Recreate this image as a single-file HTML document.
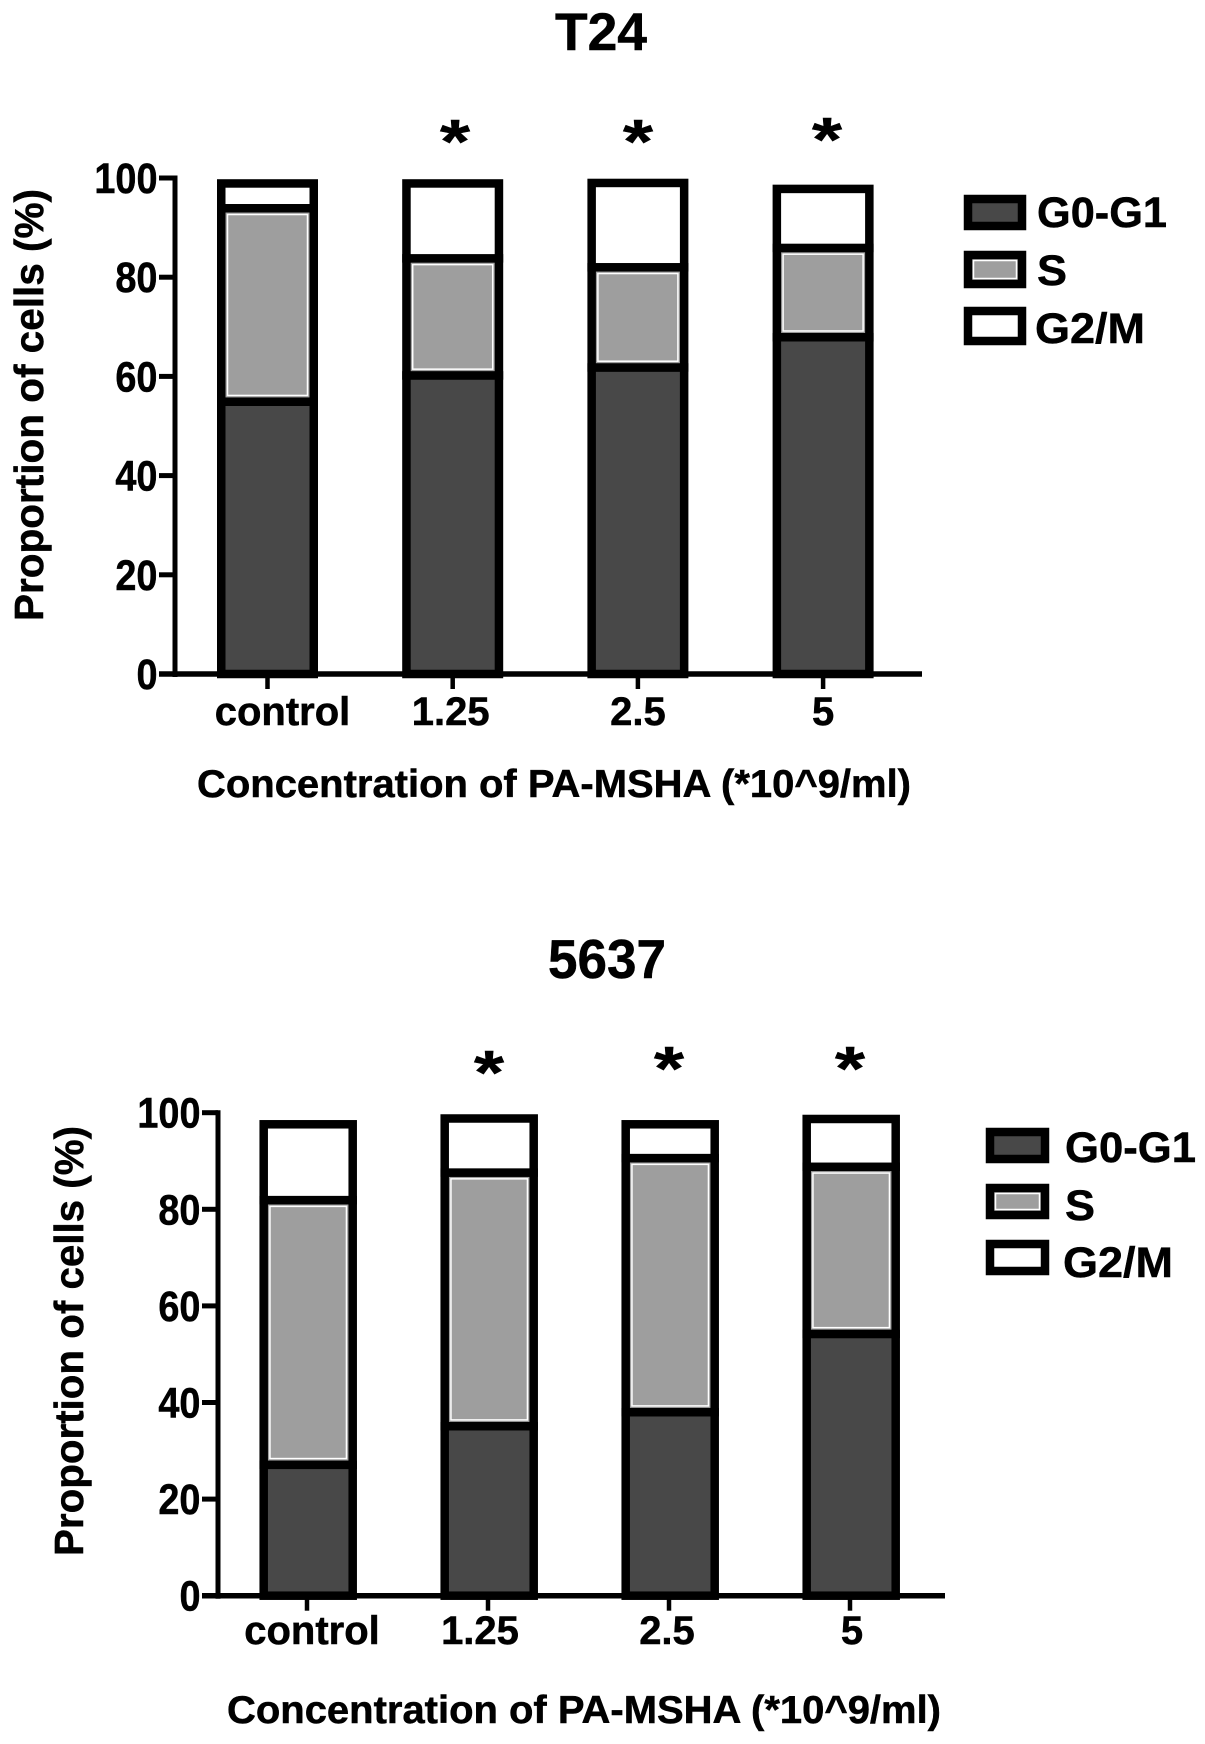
<!DOCTYPE html>
<html lang="en">
<head>
<meta charset="utf-8">
<title>Cell cycle distribution: T24 and 5637</title>
<style>
html,body{margin:0;padding:0;background:#fff;}
svg{display:block;}
text{font-family:"Liberation Sans",Arial,sans-serif;font-weight:bold;fill:#000;stroke:#000;stroke-width:0.5;}
</style>
</head>
<body>
<svg id="figure" xmlns="http://www.w3.org/2000/svg" width="1205" height="1744" viewBox="0 0 1205 1744">
  <rect x="0" y="0" width="1205" height="1744" fill="#fff"/>

  <g id="chart-t24">
    <text x="601" y="50" font-size="53" text-anchor="middle" textLength="92" lengthAdjust="spacingAndGlyphs">T24</text>
    <text transform="translate(43,405) rotate(-90)" font-size="41" text-anchor="middle" textLength="432" lengthAdjust="spacingAndGlyphs">Proportion of cells (%)</text>
    <text x="554" y="797" font-size="39" text-anchor="middle" textLength="714" lengthAdjust="spacingAndGlyphs">Concentration of PA-MSHA (*10^9/ml)</text>
    <g>
      <g>
        <rect x="968" y="199" width="54" height="27" fill="#484848" stroke="#000" stroke-width="8.5"/>
        <text x="1037" y="227" font-size="43" textLength="130" lengthAdjust="spacingAndGlyphs">G0-G1</text>
      </g>
      <g>
        <rect x="968" y="255" width="54" height="29" fill="#9e9e9e" stroke="#000" stroke-width="8.5"/>
        <rect x="973.5" y="260.5" width="43" height="18" fill="none" stroke="#fff" stroke-width="1.5"/>
        <text x="1037" y="285" font-size="43" textLength="30" lengthAdjust="spacingAndGlyphs">S</text>
      </g>
      <g>
        <rect x="968" y="311" width="54" height="30" fill="#fff" stroke="#000" stroke-width="8.5"/>
        <text x="1035" y="343" font-size="43" textLength="110" lengthAdjust="spacingAndGlyphs">G2/M</text>
      </g>
    </g>
  </g>

  <g id="chart-5637">
    <text x="607" y="978" font-size="55" text-anchor="middle" textLength="118" lengthAdjust="spacingAndGlyphs">5637</text>
    <text transform="translate(83,1341) rotate(-90)" font-size="41" text-anchor="middle" textLength="430" lengthAdjust="spacingAndGlyphs">Proportion of cells (%)</text>
    <text x="584" y="1723" font-size="39" text-anchor="middle" textLength="714" lengthAdjust="spacingAndGlyphs">Concentration of PA-MSHA (*10^9/ml)</text>
    <g>
      <g>
        <rect x="990" y="1132" width="55" height="27" fill="#484848" stroke="#000" stroke-width="8.5"/>
        <text x="1065" y="1162" font-size="43" textLength="131" lengthAdjust="spacingAndGlyphs">G0-G1</text>
      </g>
      <g>
        <rect x="990" y="1188" width="55" height="27" fill="#9e9e9e" stroke="#000" stroke-width="8.5"/>
        <rect x="995.5" y="1193.5" width="44" height="16" fill="none" stroke="#fff" stroke-width="1.5"/>
        <text x="1065" y="1220" font-size="43" textLength="30" lengthAdjust="spacingAndGlyphs">S</text>
      </g>
      <g>
        <rect x="990" y="1244" width="55" height="27" fill="#fff" stroke="#000" stroke-width="8.5"/>
        <text x="1063" y="1277" font-size="43" textLength="110" lengthAdjust="spacingAndGlyphs">G2/M</text>
      </g>
    </g>
  </g>
</svg>
<script>
// Shared axis content
const categories = ['control', '1.25', '2.5', '5'];
const yTicks = [0, 20, 40, 60, 80, 100];
const significance = ['', '*', '*', '*'];

// T24 series (percent of cells)
const t24G0G1 = [54.9, 60.2, 61.8, 67.9];
const t24S = [39.0, 23.6, 20.2, 18.0];
const t24G2M = [5.0, 15.1, 17.0, 11.9];

// 5637 series (percent of cells)
const c5637G0G1 = [27.1, 35.1, 38.0, 54.2];
const c5637S = [54.8, 52.5, 52.6, 34.6];
const c5637G2M = [15.7, 11.2, 7.0, 9.9];

const SVG_NS = 'http://www.w3.org/2000/svg';

function make(tag, attrs) {
  const el = document.createElementNS(SVG_NS, tag);
  for (const key in attrs) el.setAttribute(key, attrs[key]);
  return el;
}

function drawChart(root, prefix, g0Values, sValues, g2Values, frame) {
  const yScale = v => frame.yZero - v * frame.yUnit;
  const xScale = i => frame.xFirst + i * frame.xStep;
  const tickX = i => frame.tickFirst + i * frame.xStep;
  const stroke = 8.5;

  categories.forEach((cat, i) => {
    const cx = xScale(i);
    const left = cx - frame.barWidth / 2;
    const g0Top = yScale(g0Values[i]);
    const sTop = yScale(g0Values[i] + sValues[i]);
    const g2Top = yScale(g0Values[i] + sValues[i] + g2Values[i]);

    const group = make('g', {});
    
    

    const g0Rect = make('rect', {x: left, y: g0Top, width: frame.barWidth, height: yScale(0) - g0Top, fill: '#484848', stroke: '#000', 'stroke-width': stroke});
    
    
    group.appendChild(g0Rect);

    const sRect = make('rect', {x: left, y: sTop, width: frame.barWidth, height: g0Top - sTop, fill: '#9e9e9e', stroke: '#000', 'stroke-width': stroke});
    
    
    group.appendChild(sRect);

    const inset = stroke / 2 + 2;
    const sOutline = make('rect', {x: left + inset, y: sTop + inset, width: frame.barWidth - 2 * inset, height: Math.max(0, g0Top - sTop - 2 * inset), fill: 'none', stroke: '#fff', 'stroke-width': 1.5});
    
    
    group.appendChild(sOutline);

    const g2Rect = make('rect', {x: left, y: g2Top, width: frame.barWidth, height: sTop - g2Top, fill: '#fff', stroke: '#000', 'stroke-width': stroke});
    
    
    group.appendChild(g2Rect);

    root.appendChild(group);

    const tick = make('line', {x1: tickX(i), x2: tickX(i), y1: yScale(0), y2: yScale(0) + 15, stroke: '#000', 'stroke-width': 4.5});
    
    
    root.appendChild(tick);

    const label = make('text', {x: tickX(i) + frame.labelShift[i], y: frame.labelY, 'font-size': 40, 'text-anchor': 'middle'});
    label.textContent = cat;
    
    
    root.appendChild(label);

    if (significance[i]) {
      const star = make('text', {x: frame.starX[i], y: frame.starY[i], 'font-size': 62, 'text-anchor': 'middle', 'stroke-width': 2, textLength: 30, lengthAdjust: 'spacingAndGlyphs'});
      star.textContent = significance[i];
      
      
      root.appendChild(star);
    }
  });

  const yAxis = make('line', {x1: frame.yAxisX, x2: frame.yAxisX, y1: yScale(100) - 2.5, y2: yScale(0) + 3, stroke: '#000', 'stroke-width': 5});
  
  
  root.appendChild(yAxis);

  const xAxis = make('line', {x1: frame.tickLeft, x2: frame.xAxisEnd, y1: yScale(0), y2: yScale(0), stroke: '#000', 'stroke-width': 5.5});
  
  
  root.appendChild(xAxis);

  yTicks.forEach(v => {
    const tick = make('line', {x1: frame.tickLeft, x2: frame.yAxisX, y1: yScale(v), y2: yScale(v), stroke: '#000', 'stroke-width': 5});
    
    
    root.appendChild(tick);

    const label = make('text', {x: frame.tickLeft - 1.5, y: yScale(v) + 15, 'font-size': 43, 'text-anchor': 'end'});
    label.textContent = String(v);
    
    
    root.appendChild(label);
    label.setAttribute('textLength', label.getComputedTextLength() * 0.88);
    label.setAttribute('lengthAdjust', 'spacingAndGlyphs');
  });
}

drawChart(document.getElementById('chart-t24'), 't24', t24G0G1, t24S, t24G2M, {
  yZero: 674, yUnit: 4.96, xFirst: 267.5, xStep: 185.2, tickFirst: 267.5, barWidth: 92.5,
  yAxisX: 175, tickLeft: 159, xAxisEnd: 922, labelShift: [15, -2, 0, 0], labelY: 725,
  starX: [0, 455, 638, 827], starY: [0, 163, 163, 161]
});

drawChart(document.getElementById('chart-5637'), '5637', c5637G0G1, c5637S, c5637G2M, {
  yZero: 1595.7, yUnit: 4.83, xFirst: 308.2, xStep: 181, tickFirst: 307, barWidth: 89,
  yAxisX: 218, tickLeft: 202, xAxisEnd: 945, labelShift: [5, -8, -2, 2], labelY: 1644,
  starX: [0, 489, 669, 850], starY: [0, 1094, 1090, 1090]
});
</script>
</body>
</html>
